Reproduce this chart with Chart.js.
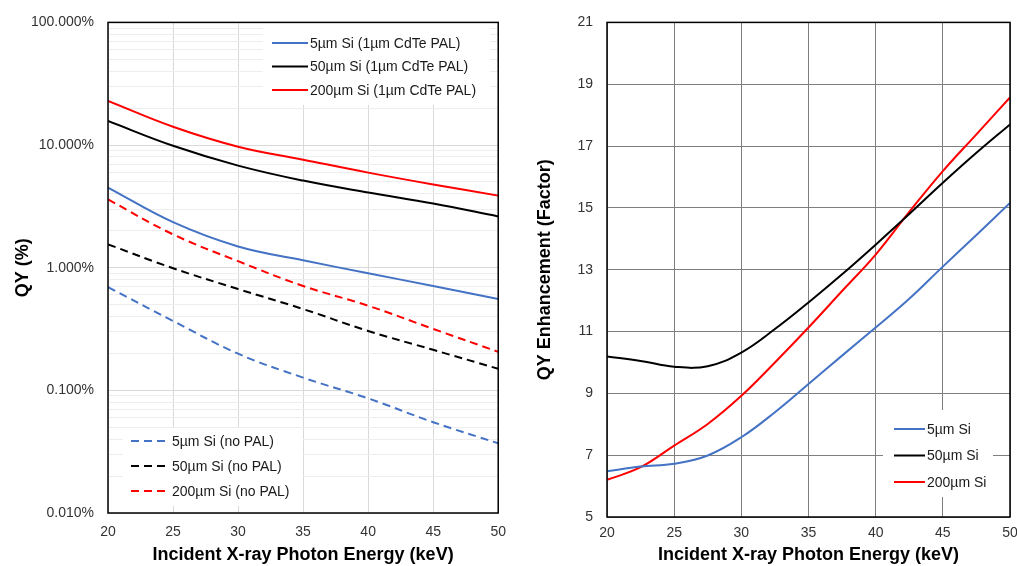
<!DOCTYPE html>
<html>
<head>
<meta charset="utf-8">
<script src="https://cdn.jsdelivr.net/npm/chart.js@4.4.1/dist/chart.umd.min.js"></script>
<style>
  html, body { margin: 0; padding: 0; background: #fff; overflow: hidden; }
  .panel { position: absolute; top: 0; height: 566px; }
  #leftPanel { left: 0; width: 517px; }
  #rightPanel { left: 515px; width: 520px; }
</style>
</head>
<body>
<div class="panel" id="leftPanel"><canvas id="qyChart"></canvas></div>
<div class="panel" id="rightPanel"><canvas id="enhChart"></canvas></div>
<script>
// ---- data ----
const energy = [20, 25, 30, 35, 40, 45, 50];

// QY (%) with 1um CdTe PAL
const qyPal5 = [4.5, 2.35, 1.49, 1.15, 0.90, 0.71, 0.555];
const qyPal50 = [15.7, 9.86, 6.8, 5.13, 4.1, 3.34, 2.62];
const qyPal200 = [22.9, 14.1, 9.7, 7.6, 5.96, 4.77, 3.87];

// QY (%) without PAL
const qyNoPal5 = [0.695, 0.368, 0.199, 0.127, 0.086, 0.055, 0.037];
const qyNoPal50 = [1.55, 0.99, 0.67, 0.46, 0.305, 0.214, 0.150];
const qyNoPal200 = [3.6, 1.87, 1.13, 0.71, 0.49, 0.317, 0.206];

const qyDecades = [0.01, 0.1, 1, 10, 100];

// enhancement factor
const energyFine = [20, 22.5, 25, 27.5, 30, 32.5, 35, 37.5, 40, 42.5, 45, 47.5, 50];
const enh5 = [6.48, 6.63, 6.72, 6.99, 7.58, 8.39, 9.30, 10.22, 11.13, 12.06, 13.1, 14.12, 15.16];
const enh50 = [10.19, 10.05, 9.86, 9.88, 10.32, 11.08, 11.94, 12.85, 13.81, 14.8, 15.81, 16.78, 17.7];
const enh200 = [6.2, 6.61, 7.31, 8.01, 8.92, 10.0, 11.13, 12.31, 13.49, 14.87, 16.19, 17.38, 18.57];

const xTitle = "Incident X-ray Photon Energy (keV)";

// ---- colours / shared bits ----
const BLUE = "#4472c4";
const BLACK = "#000000";
const RED = "#ff0000";
const DASH = [8, 5];

Chart.defaults.font.family = "'Liberation Sans', Arial, sans-serif";
Chart.defaults.font.size = 14;
Chart.defaults.color = "#333";

function pts(xs, ys) {
  return xs.map((x, i) => ({ x, y: ys[i] }));
}

function line(label, xs, ys, color, dashed) {
  return {
    label,
    data: pts(xs, ys),
    borderColor: color,
    backgroundColor: color,
    borderWidth: 2,
    borderDash: dashed ? DASH : [],
    pointRadius: 0,
    fill: false,
    tension: 0.4,
  };
}

// white legend boxes + black frame round the plot area
const legendFrame = {
  id: "legendFrame",
  afterDraw(chart, args, opts) {
    const ctx = chart.ctx;
    const { left, top, right, bottom } = chart.chartArea;
    ctx.save();
    (opts.boxes || []).forEach((box) => {
      ctx.fillStyle = "#fff";
      ctx.fillRect(box.x, box.y, box.w, box.h);
      box.items.forEach((idx, i) => {
        const ds = chart.data.datasets[idx];
        const y = box.firstRow + i * box.rowGap;
        ctx.strokeStyle = ds.borderColor;
        ctx.lineWidth = ds.borderWidth;
        ctx.setLineDash(ds.borderDash || []);
        ctx.beginPath();
        ctx.moveTo(box.lineX, y);
        ctx.lineTo(box.lineX + box.lineLen, y);
        ctx.stroke();
        ctx.setLineDash([]);
        ctx.fillStyle = "#1a1a1a";
        ctx.font = "14px 'Liberation Sans', Arial, sans-serif";
        ctx.textBaseline = "middle";
        ctx.textAlign = "left";
        ctx.fillText(ds.label, box.lineX + box.lineLen + 2, y + 1);
      });
    });
    ctx.strokeStyle = "#000";
    ctx.lineWidth = 1.5;
    ctx.strokeRect(left, top, right - left, bottom - top);
    ctx.restore();
  },
};

function xScale(gridColor, pad, height) {
  return {
    type: "linear",
    min: 20,
    max: 50,
    ticks: { stepSize: 5, padding: pad, color: "#333", font: { size: 14 } },
    grid: { color: gridColor, drawTicks: false },
    border: { display: false },
    title: {
      display: true,
      text: xTitle,
      color: "#000",
      font: { size: 18, weight: "bold" },
      padding: { top: 0, bottom: 0 },
    },
    afterFit(scale) { scale.height = height; },
  };
}

// ---- left: QY on log axis ----
new Chart(document.getElementById("qyChart"), {
  type: "line",
  data: {
    datasets: [
      line("5µm Si (1µm CdTe PAL)", energy, qyPal5, BLUE, false),
      line("50µm Si (1µm CdTe PAL)", energy, qyPal50, BLACK, false),
      line("200µm Si (1µm CdTe PAL)", energy, qyPal200, RED, false),
      line("5µm Si (no PAL)", energy, qyNoPal5, BLUE, true),
      line("50µm Si (no PAL)", energy, qyNoPal50, BLACK, true),
      line("200µm Si (no PAL)", energy, qyNoPal200, RED, true),
    ],
  },
  options: {
    responsive: true,
    maintainAspectRatio: false,
    animation: false,
    layout: { padding: { top: 20, right: 15, left: 0, bottom: 0 } },
    plugins: {
      legend: { display: false },
      tooltip: { enabled: false },
      legendFrame: {
        boxes: [
          { x: 263, y: 22, w: 227, h: 83, lineX: 272, lineLen: 36, firstRow: 43, rowGap: 23.5, items: [0, 1, 2] },
          { x: 123, y: 428, w: 180, h: 78, lineX: 131, lineLen: 39, firstRow: 441, rowGap: 25, items: [3, 4, 5] },
        ],
      },
    },
    scales: {
      x: xScale("#d9d9d9", 11, 53),
      y: {
        type: "logarithmic",
        min: 0.01,
        max: 100,
        afterBuildTicks(scale) {
          const ticks = [];
          qyDecades.slice(0, -1).forEach((d) => {
            for (let m = 1; m <= 9; m++) ticks.push({ value: d * m });
          });
          ticks.push({ value: qyDecades[qyDecades.length - 1] });
          scale.ticks = ticks;
        },
        ticks: {
          autoSkip: false,
          padding: 14,
          color: "#333",
          font: { size: 14 },
          callback: (v) => (qyDecades.includes(v) ? v.toFixed(3) + "%" : ""),
        },
        grid: {
          drawTicks: false,
          color: (c) => (qyDecades.includes(c.tick.value) ? "#d9d9d9" : "#eeeeee"),
        },
        border: { display: false },
        title: {
          display: true,
          text: "QY (%)",
          color: "#000",
          font: { size: 18, weight: "bold" },
          padding: { top: 12, bottom: 0 },
        },
        afterFit(scale) { scale.width = 108; },
      },
    },
  },
  plugins: [legendFrame],
});

// ---- right: enhancement factor ----
new Chart(document.getElementById("enhChart"), {
  type: "line",
  data: {
    datasets: [
      line("5µm Si", energyFine, enh5, BLUE, false),
      line("50µm Si", energyFine, enh50, BLACK, false),
      line("200µm Si", energyFine, enh200, RED, false),
    ],
  },
  options: {
    responsive: true,
    maintainAspectRatio: false,
    animation: false,
    layout: { padding: { top: 20, right: 25, left: 0, bottom: 0 } },
    plugins: {
      legend: { display: false },
      tooltip: { enabled: false },
      legendFrame: {
        boxes: [
          { x: 368, y: 410, w: 110, h: 87, lineX: 379, lineLen: 31, firstRow: 429, rowGap: 26.5, items: [0, 1, 2] },
        ],
      },
    },
    scales: {
      x: xScale("#7f7f7f", 8, 49),
      y: {
        type: "linear",
        min: 5,
        max: 21,
        ticks: { stepSize: 2, padding: 14, color: "#333", font: { size: 14 } },
        grid: { drawTicks: false, color: "#7f7f7f" },
        border: { display: false },
        title: {
          display: true,
          text: "QY Enhancement (Factor)",
          color: "#000",
          font: { size: 18, weight: "bold" },
          padding: { top: 19, bottom: 0 },
        },
        afterFit(scale) { scale.width = 92; },
      },
    },
  },
  plugins: [legendFrame],
});
</script>
</body>
</html>
